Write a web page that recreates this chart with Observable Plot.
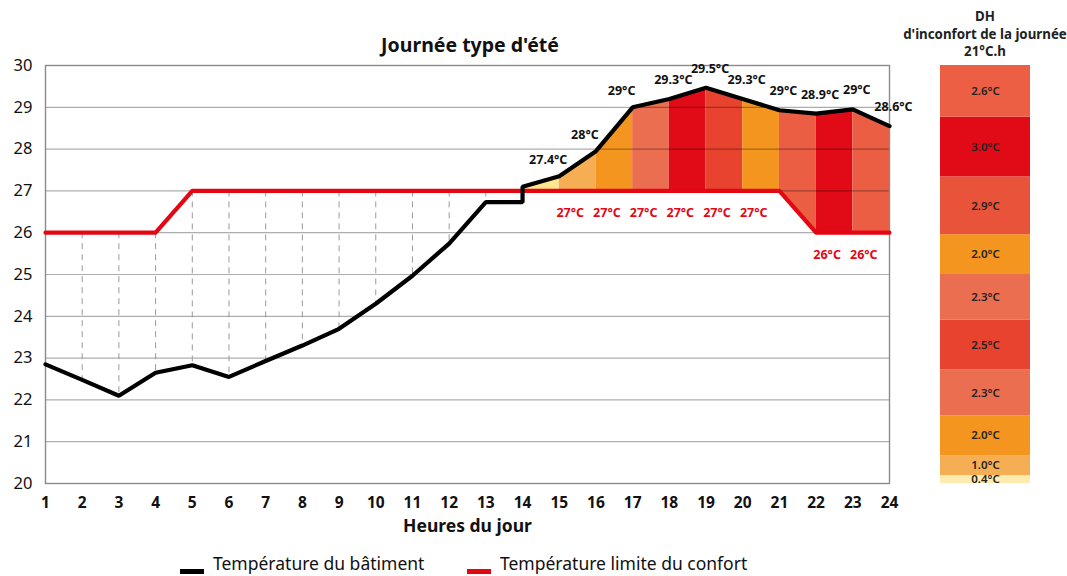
<!DOCTYPE html>
<html>
<head>
<meta charset="utf-8">
<script src="https://cdn.jsdelivr.net/npm/d3@7"></script>
<script src="https://cdn.jsdelivr.net/npm/@observablehq/plot@0.6"></script>
<style>
  html, body { margin: 0; padding: 0; background: #fff; }
  body { width: 1067px; height: 576px; position: relative; overflow: hidden; font-family: "Noto Sans", sans-serif; color: #111; }
  #title { position: absolute; left: 45px; width: 850px; top: 33px; text-align: center; font-weight: bold; font-size: 19.5px; line-height: 24px; }
  #main { position: absolute; left: 0; top: 55px; }
  #bar { position: absolute; left: 900px; top: 55px; }
  #barHead { position: absolute; left: 899px; width: 172px; top: 8px; text-align: center; font-weight: bold; font-size: 13.3px; line-height: 17.5px; color: #222; }
  .leg { position: absolute; top: 552px; font-size: 17.5px; line-height: 22px; white-space: nowrap; }
  .leg .sw { position: absolute; left: 0; top: 17px; width: 24px; height: 5px; }
  .leg .lab { position: absolute; left: 33px; top: 0; }
</style>
</head>
<body>
<div id="title"></div>
<div id="main"></div>
<div id="barHead"></div>
<div id="bar"></div>
<div class="leg" id="leg1" style="left:180px"><span class="sw" style="background:#000"></span><span class="lab"></span></div>
<div class="leg" id="leg2" style="left:467px"><span class="sw" style="background:#E30613"></span><span class="lab"></span></div>
<script>
// ---------- data ----------
const titre = "Journée type d'été";
const titreX = "Heures du jour";
const nomBatiment = "Température du bâtiment";
const nomLimite = "Température limite du confort";

const heures = [1,2,3,4,5,6,7,8,9,10,11,12,13,14,15,16,17,18,19,20,21,22,23,24];
const yTicks = [20,21,22,23,24,25,26,27,28,29,30];

// building temperature (hour 14 has a step: two values)
const heuresBatiment = [1,2,3,4,5,6,7,8,9,10,11,12,13,14,14,15,16,17,18,19,20,21,22,23,24];
const tempBatiment   = [22.85,22.48,22.1,22.65,22.83,22.55,22.93,23.3,23.7,24.3,24.97,25.74,26.73,26.73,27.1,27.35,27.95,29.0,29.2,29.47,29.2,28.93,28.85,28.95,28.55];

// comfort limit temperature
const tempLimite = [26,26,26,26,27,27,27,27,27,27,27,27,27,27,27,27,27,27,27,27,27,26,26,26];

// data labels on the building line
const heuresEtiqBat = [15,16,17,18,19,20,21,22,23,24];
const etiqBatiment = ["27.4°C","28°C","29°C","29.3°C","29.5°C","29.3°C","29°C","28.9°C","29°C","28.6°C"];

// data labels under the limit line
const heuresEtiqLim = [15,16,17,18,19,20,22,23];
const etiqLimite = ["27°C","27°C","27°C","27°C","27°C","27°C","26°C","26°C"];

// discomfort columns (between hour h and h+1)
const heuresColonnes = [14,15,16,17,18,19,20,21,22,23];
const couleursColonnes = ["#FDE68F","#F6AE55","#F3951E","#EC6E50","#E10A17","#E7432F","#F3951E","#EC5E44","#E10A17","#EC5E44"];

// DH stacked bar (bottom to top)
const dhValeurs = [0.4,1.0,2.0,2.3,2.5,2.3,2.0,2.9,3.0,2.6];
const couleursBarre = ["#FFEBB0","#F6AE55","#F3951E","#EC6E50","#E7432F","#EC6E50","#F3951E","#E9533A","#E10A17","#EC5F45"];

// ---------- derived tables ----------
const rouge = "#E30613";
const batPoints = heuresBatiment.map((h, i) => ({h, t: tempBatiment[i]}));
const limPoints = heures.map((h, i) => ({h, t: tempLimite[i]}));
const batAt = new Map(); batPoints.forEach(p => batAt.set(p.h, p.t)); // last value wins
const firstBatAt = new Map(); batPoints.forEach(p => { if (!firstBatAt.has(p.h)) firstBatAt.set(p.h, p.t); });
const limAt = new Map(limPoints.map(p => [p.h, p.t]));

const colonnes = [];
heuresColonnes.forEach((h, i) => {
  [h, h + 1].forEach(x => colonnes.push({col: i, h: x, lo: limAt.get(x), hi: batAt.get(x), c: couleursColonnes[i]}));
});

const tirets = heures.filter(h => h > 1 && firstBatAt.get(h) < limAt.get(h))
  .map(h => ({h, y1: limAt.get(h), y2: firstBatAt.get(h)}));

const etiqB = heuresEtiqBat.map((h, i) => ({h, t: batAt.get(h), s: etiqBatiment[i]}));
const etiqL = heuresEtiqLim.map((h, i) => ({h, t: limAt.get(h), s: etiqLimite[i]}));

let cum = 0;
const barre = dhValeurs.map((v, i) => { const d = {k: "DH", y1: cum, y2: cum + v, mid: cum + v / 2, v, c: couleursBarre[i]}; cum += v; return d; });
const totalDH = d3.sum(dhValeurs);

// ---------- texts ----------
document.getElementById("title").textContent = titre;
document.getElementById("barHead").innerHTML = "DH<br>d'inconfort de la journée<br>" + d3.format(".0f")(totalDH) + "°C.h";
document.querySelector("#leg1 .lab").textContent = nomBatiment;
document.querySelector("#leg2 .lab").textContent = nomLimite;

// ---------- main chart ----------
const main = Plot.plot({
  width: 905, height: 490,
  marginTop: 10, marginBottom: 62, marginLeft: 45, marginRight: 16,
  x: {domain: [1, 24], axis: null},
  y: {domain: [20, 30], axis: null},
  color: {type: "identity"},
  style: {fontFamily: "'Noto Sans', sans-serif", background: "transparent", overflow: "visible"},
  marks: [
    Plot.areaY(colonnes, {x: "h", y1: "lo", y2: "hi", z: "col", fill: "c", curve: "linear"}),
    Plot.ruleY([21,22,23,24,25,26,27,28,29], {stroke: "#000", strokeOpacity: 0.32, strokeWidth: 1.2}),
    Plot.frame({stroke: "#8a8a8a", strokeWidth: 1.4}),
    Plot.ruleX(tirets, {x: "h", y1: "y1", y2: "y2", stroke: "#9a9a9a", strokeWidth: 1, strokeDasharray: "6,5"}),
    Plot.line(limPoints, {x: "h", y: "t", stroke: rouge, strokeWidth: 4.2}),
    Plot.line(batPoints, {x: "h", y: "t", stroke: "#000", strokeWidth: 4.2, strokeLinejoin: "miter"}),
    Plot.text(etiqB.slice(0, 3), {x: "h", y: "t", text: "s", dx: -11, dy: -16, fontSize: 12.5, fontWeight: "bold", fill: "#111", letterSpacing: "-0.5px"}),
    Plot.text(etiqB.slice(3), {x: "h", y: "t", text: "s", dx: 4, dy: -19, fontSize: 12.5, fontWeight: "bold", fill: "#111", letterSpacing: "-0.5px"}),
    Plot.text(etiqL, {x: "h", y: "t", text: "s", dx: 11, dy: 22, fontSize: 12.5, fontWeight: "bold", fill: rouge, letterSpacing: "-0.5px"}),
    Plot.text(heures, {x: d => d, frameAnchor: "bottom", dy: 24, text: d => String(d), fontSize: 15.5, fontWeight: "bold", fill: "#111"}),
    Plot.text(yTicks, {y: d => d, frameAnchor: "left", dx: -13, textAnchor: "end", text: d => String(d), fontSize: 16.5, fill: "#111"}),
    Plot.text([titreX], {frameAnchor: "bottom", dy: 48, text: d => d, fontSize: 17.5, fontWeight: "bold", fill: "#111"})
  ]
});
document.getElementById("main").appendChild(main);

// ---------- DH bar ----------
const bar = Plot.plot({
  width: 167, height: 490,
  marginTop: 10, marginBottom: 62, marginLeft: 40, marginRight: 37,
  x: {domain: ["DH"], axis: null, padding: 0},
  y: {domain: [0, totalDH], axis: null},
  color: {type: "identity"},
  style: {fontFamily: "'Noto Sans', sans-serif", background: "transparent", overflow: "visible"},
  marks: [
    Plot.barY(barre, {x: "k", y1: "y1", y2: "y2", fill: "c", inset: 0}),
    Plot.text(barre, {x: "k", y: "mid", text: d => d3.format(".1f")(d.v) + "°C", fontSize: 11.5, fontWeight: 600, fill: "#222", letterSpacing: "-0.5px"})
  ]
});
document.getElementById("bar").appendChild(bar);
</script>
</body>
</html>
